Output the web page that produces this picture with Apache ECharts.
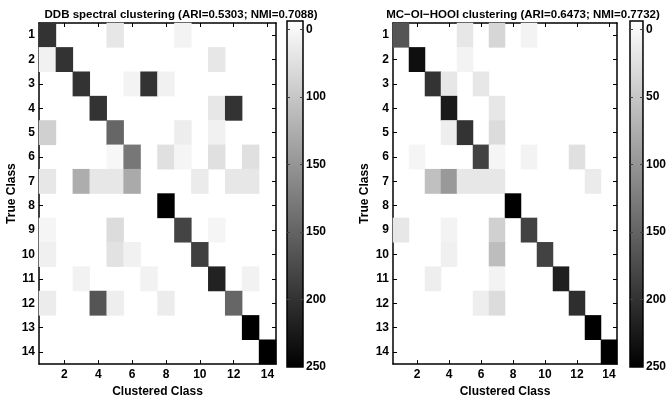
<!DOCTYPE html>
<html>
<head>
<meta charset="utf-8">
<script src="https://cdn.jsdelivr.net/npm/echarts@6/dist/echarts.min.js"></script>
<style>html,body{margin:0;padding:0;background:#fff;}#c{width:669px;height:403px;}</style>
</head>
<body>
<div id="c"></div>
<script>
// ---- data ----
const classLabels = ['1','2','3','4','5','6','7','8','9','10','11','12','13','14'];
const titleLeft = 'DDB spectral clustering (ARI=0.5303; NMI=0.7088)';
const titleRight = 'MC\u2212OI\u2212HOOI clustering (ARI=0.6473; NMI=0.7732)';
const xName = 'Clustered Class';
const yName = 'True Class';
// rows = true class 1..14, columns = clustered class 1..14
const ddbMatrix = [
  [200,0,0,0,24,0,0,0,12,0,0,0,0,0],
  [14,200,0,0,0,0,0,0,0,0,24,0,0,0],
  [0,0,200,0,0,12,200,14,0,0,0,0,0,0],
  [0,0,0,200,0,0,0,0,0,0,24,200,0,0],
  [46,0,0,0,150,0,0,0,18,0,14,0,0,0],
  [0,0,0,0,8,133,0,30,10,0,30,0,30,0],
  [24,0,80,24,24,83,0,0,0,20,0,24,24,0],
  [0,0,0,0,0,0,0,250,0,0,0,0,0,0],
  [10,0,0,0,34,0,0,0,183,0,10,0,0,0],
  [15,0,0,0,28,14,0,0,0,187,0,0,0,0],
  [0,0,13,0,0,0,13,0,0,0,217,0,13,0],
  [19,0,0,167,17,0,0,19,0,0,0,150,0,0],
  [0,0,0,0,0,0,0,0,0,0,0,0,250,0],
  [0,0,0,0,0,0,0,0,0,0,0,0,0,250]
];
const hooiMatrix = [
  [167,0,0,0,24,0,40,0,12,0,0,0,0,0],
  [0,235,0,0,12,0,0,0,0,0,0,0,0,0],
  [0,0,200,24,0,24,0,0,0,0,0,0,0,0],
  [0,0,0,225,0,0,24,0,0,0,0,0,0,0],
  [0,0,0,17,200,0,34,0,0,0,0,0,0,0],
  [0,10,0,0,0,185,10,0,12,0,0,30,0,0],
  [0,0,62,100,24,24,24,0,0,0,0,0,20,0],
  [0,0,0,0,0,0,0,250,0,0,0,0,0,0],
  [24,0,0,12,0,0,46,0,185,0,0,0,0,0],
  [0,0,0,15,0,0,65,0,0,185,0,0,0,0],
  [0,0,17,0,0,0,12,0,0,0,220,0,0,0],
  [0,0,0,0,0,17,34,0,0,0,0,205,0,0],
  [0,0,0,0,0,0,0,0,0,0,0,0,250,0],
  [0,0,0,0,0,0,0,0,0,0,0,0,0,250]
];
const colorMin = 0, colorMax = 250;
const cbarTickValues = [0,50,100,150,200,250];
const cbarLabelsLeft = ['0','100','150','150','200','250'];
const cbarLabelsRight = ['0','50','100','150','200','250'];

// ---- build ----
// zero cells are white (same as the background), so only non-zero cells are drawn
function toCells(m){
  const out = [];
  m.forEach((row, r) => row.forEach((v, c) => { if (v !== 0) out.push([c, r, v]); }));
  return out;
}
const FONT = 'Liberation Sans, Arial, Helvetica, sans-serif';
const lab = {fontFamily: FONT, fontWeight: 'bold', fontSize: 12, color: '#000'};
const evenOnly = (i) => i % 2 === 1;
function ls(){ return {color:'#000', width:1.5}; }
function ticks(interval){ return {show:true, inside:true, length:4, alignWithLabel:true, interval, lineStyle:{color:'#000', width:1}}; }

function heatAxesX(gridIndex){
  return [
    {type:'category', gridIndex, data: classLabels, position:'bottom',
     axisLine:{show:true, lineStyle:ls()},
     axisTick:ticks(evenOnly),
     axisLabel:Object.assign({interval: evenOnly, margin:5}, lab),
     splitLine:{show:false},
     name: xName, nameLocation:'middle', nameGap:17,
     nameTextStyle:{fontFamily:FONT, fontWeight:'bold', fontSize:12, color:'#000', verticalAlign:'top'}},
    {type:'category', gridIndex, data: classLabels, position:'top',
     axisLine:{show:true, lineStyle:ls()},
     axisTick:ticks(evenOnly),
     axisLabel:{show:false}, splitLine:{show:false}}
  ];
}
function heatAxesY(gridIndex, gap){
  return [
    {type:'category', gridIndex, data: classLabels, inverse:true, position:'left',
     axisLine:{show:true, lineStyle:ls()},
     axisTick:ticks(0),
     axisLabel:Object.assign({interval:0, margin:4}, lab),
     splitLine:{show:false},
     name: yName, nameLocation:'middle', nameGap: gap, nameRotate: 90,
     nameTextStyle:{fontFamily:FONT, fontWeight:'bold', fontSize:12, color:'#000'}},
    {type:'category', gridIndex, data: classLabels, inverse:true, position:'right',
     axisLine:{show:true, lineStyle:ls()},
     axisTick:ticks(0),
     axisLabel:{show:false}, splitLine:{show:false}}
  ];
}
function cbarAxesY(gridIndex, labels){
  const fmt = (v) => { const i = cbarTickValues.indexOf(v); return i >= 0 ? labels[i] : ''; };
  return [
    {type:'value', gridIndex, min:-6.3, max:colorMax, inverse:true, position:'left',
     axisLine:{show:false}, splitLine:{show:false},
     axisTick:{show:true, inside:true, length:3, customValues: cbarTickValues, lineStyle:{color:'#444'}},
     axisLabel:{show:false}},
    {type:'value', gridIndex, min:-6.3, max:colorMax, inverse:true, position:'right',
     axisLine:{show:false}, splitLine:{show:false},
     axisTick:{show:true, inside:true, length:3, customValues: cbarTickValues, lineStyle:{color:'#444'}},
     axisLabel:Object.assign({show:true, customValues: cbarTickValues, formatter: fmt, margin:3}, lab)}
  ];
}
function cbarGradient(){
  return new echarts.graphic.LinearGradient(0,0,0,1,[
    {offset:0, color:'#ffffff'}, {offset:1, color:'#000000'}
  ]);
}

const option = {
  backgroundColor:'#fff',
  animation:false,
  title:[
    {text:titleLeft, left:176, top:4, textAlign:'center',
     textStyle:{fontFamily:FONT, fontWeight:'bold', fontSize:11.5, color:'#000'}},
    {text:titleRight, left:518, top:4, textAlign:'center',
     textStyle:{fontFamily:FONT, fontWeight:'bold', fontSize:11.5, color:'#000'}}
  ],
  grid:[
    {left:39, top:23, width:237, height:344},
    {left:393, top:23, width:224, height:344},
    {left:287, top:21, width:16, height:346, show:true, backgroundColor:cbarGradient(), borderColor:'#000', borderWidth:1.5},
    {left:630, top:21, width:15, height:346, show:true, backgroundColor:cbarGradient(), borderColor:'#000', borderWidth:1.5}
  ],
  xAxis:[
    ...heatAxesX(0),
    ...heatAxesX(1),
    {type:'value', gridIndex:2, min:0, max:1, show:false},
    {type:'value', gridIndex:3, min:0, max:1, show:false}
  ],
  yAxis:[
    ...heatAxesY(0, 20),
    ...heatAxesY(1, 22),
    ...cbarAxesY(2, cbarLabelsLeft),
    ...cbarAxesY(3, cbarLabelsRight)
  ],
  visualMap:{
    type:'continuous', show:false, min:colorMin, max:colorMax, seriesIndex:[0,1],
    inRange:{color:['#ffffff','#000000']}
  },
  series:[
    {type:'heatmap', xAxisIndex:0, yAxisIndex:0, data: toCells(ddbMatrix), itemStyle:{borderWidth:0}, emphasis:{disabled:true}},
    {type:'heatmap', xAxisIndex:2, yAxisIndex:2, data: toCells(hooiMatrix), itemStyle:{borderWidth:0}, emphasis:{disabled:true}}
  ]
};
const chart = echarts.init(document.getElementById('c'), null, {renderer:'canvas'});
chart.setOption(option);
</script>
</body>
</html>
